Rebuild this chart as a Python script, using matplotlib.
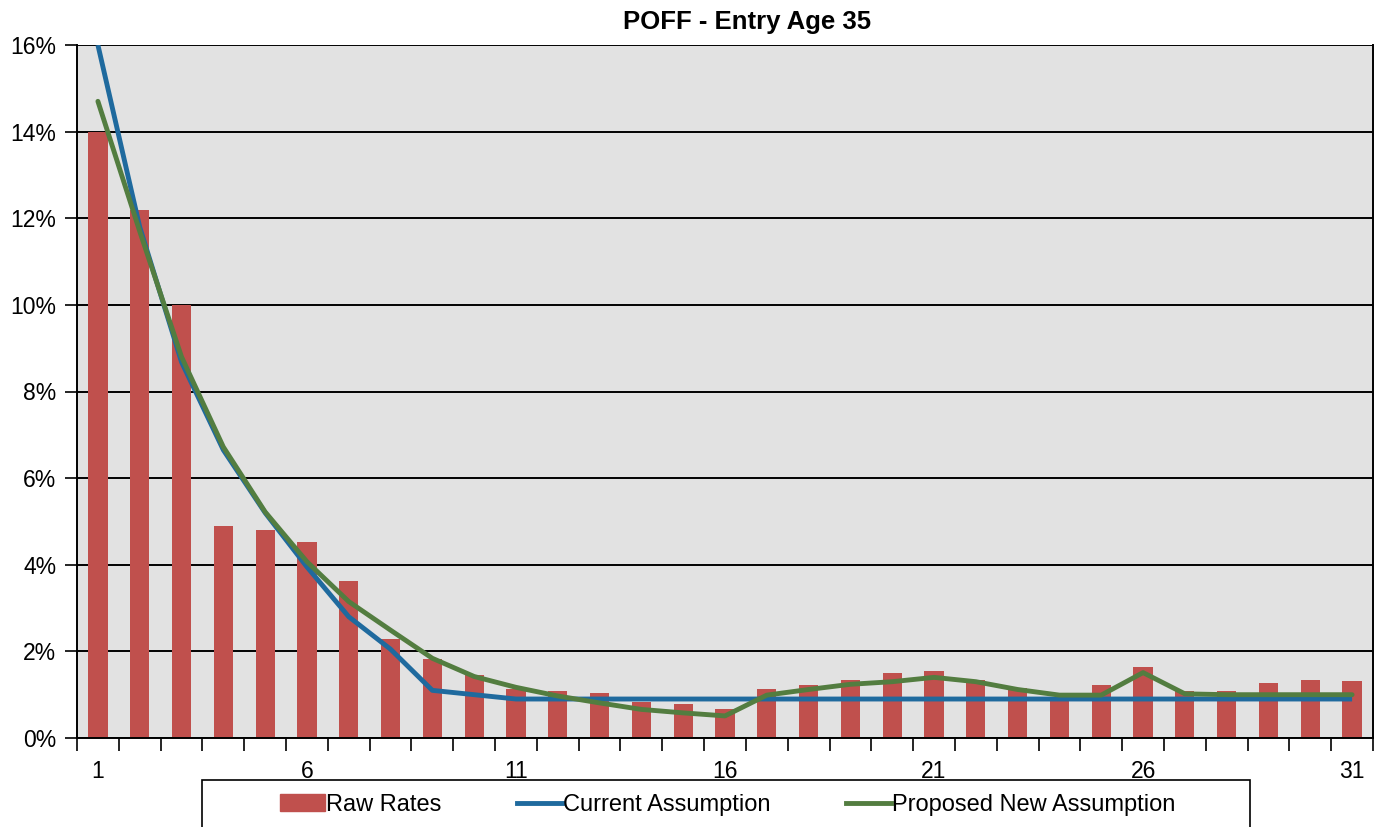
import matplotlib.pyplot as plt
from matplotlib.patches import Rectangle
from matplotlib.lines import Line2D
from matplotlib.ticker import FuncFormatter, FixedLocator
import numpy as np

years = list(range(1, 32))
raw_rates = [14.0, 12.2, 10.0, 4.9, 4.8, 4.52, 3.62, 2.28, 1.83, 1.46, 1.12,
             1.09, 1.05, 0.84, 0.78, 0.68, 1.12, 1.23, 1.35, 1.50, 1.54,
             1.34, 1.15, 0.95, 1.23, 1.65, 1.09, 1.09, 1.28, 1.35, 1.31]
current = [16.0, 11.8, 8.68, 6.65, 5.2, 3.95, 2.8, 2.05, 1.1, 1.0, 0.9,
           0.9, 0.9, 0.9, 0.9, 0.9, 0.9, 0.9, 0.9, 0.9, 0.9,
           0.9, 0.9, 0.9, 0.9, 0.9, 0.9, 0.9, 0.9, 0.9, 0.9]
proposed = [14.7, 11.7, 8.8, 6.72, 5.22, 4.07, 3.15, 2.49, 1.84, 1.42, 1.17,
            0.97, 0.81, 0.66, 0.58, 0.51, 0.99, 1.12, 1.24, 1.30, 1.40,
            1.30, 1.12, 0.99, 0.99, 1.51, 1.02, 1.0, 1.0, 1.0, 1.0]
tick_labels = ["1", "6", "11", "16", "21", "26", "31"]

plt.rcParams['font.family'] = ['Liberation Sans', 'DejaVu Sans']

red = '#C0504D'
blue = '#1F6A9E'
green = '#537D40'

fig = plt.figure(figsize=(13.81, 8.27), dpi=100)
ax = fig.add_axes([77 / 1381, 1 - 738 / 827, (1373 - 77) / 1381, (738 - 45) / 827])
ax.set_facecolor('#E2E2E2')

x = np.arange(len(years))
ax.bar(x, np.array(raw_rates) / 100, width=0.46, color=red, zorder=2)
ax.plot(x, np.array(current) / 100, color=blue, lw=3.5, zorder=3, solid_capstyle='butt')
ax.plot(x, np.array(proposed) / 100, color=green, lw=3.5, zorder=4, solid_capstyle='round')

ax.set_xlim(-0.5, len(years) - 0.5)
ax.set_ylim(0, 0.16)
ax.set_yticks(np.arange(0, 0.161, 0.02))
ax.yaxis.set_major_formatter(FuncFormatter(lambda v, p: f"{v * 100:.0f}%"))
ax.yaxis.grid(True, color='black', lw=1.4, zorder=1)
ax.set_axisbelow(True)

# ticks between categories, labels every 5th category
ax.xaxis.set_major_locator(FixedLocator(np.arange(-0.5, len(years), 1)))
ax.xaxis.set_major_formatter(FuncFormatter(lambda v, p: ""))
ax.xaxis.set_minor_locator(FixedLocator([years.index(int(t)) for t in tick_labels]))
ax.set_xticklabels(tick_labels, minor=True)
ax.tick_params(axis='x', which='major', length=9, width=1.2, direction='out')
ax.tick_params(axis='x', which='minor', length=0, pad=16, labelsize=16.5)
ax.tick_params(axis='y', length=9, width=1.2, labelsize=16.5, pad=6)

for s in ['left', 'bottom', 'right']:
    ax.spines[s].set_color('black')
    ax.spines[s].set_linewidth(1.4)
ax.spines['top'].set_visible(False)

fig.text(747 / 1381, 1 - 22 / 827, "POFF - Entry Age 35", ha='center', va='center',
         fontsize=18.5, fontweight='bold')

# legend box running off the bottom edge
fig.patches.append(Rectangle((202 / 1381, -0.05), (1250 - 202) / 1381, 0.05 + (827 - 780) / 827,
                             transform=fig.transFigure, facecolor='white',
                             edgecolor='black', lw=1.2))
handles = [Rectangle((0, 0), 1, 1, color=red),
           Line2D([], [], color=blue, lw=3.5),
           Line2D([], [], color=green, lw=3.5)]
fig.legend(handles, ["Raw Rates", "Current Assumption", "Proposed New Assumption"],
           loc='center', bbox_to_anchor=(728 / 1381, 1 - 805 / 827), ncol=3,
           frameon=False, fontsize=17, handlelength=1.9, handletextpad=0.05,
           columnspacing=3.2)

fig.savefig("out.png", dpi=100)
